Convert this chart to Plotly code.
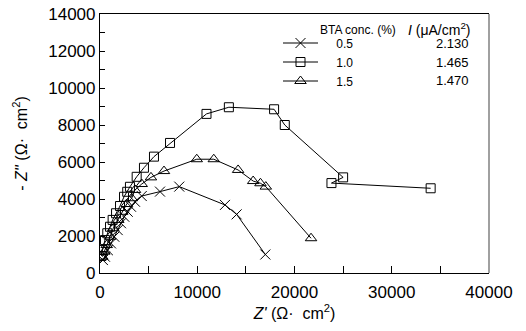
import plotly.graph_objects as go

# BTA 0.5 %
x05 = [17000, 14050, 12850, 8150, 6170, 4290, 3600, 3190, 2850, 2500, 2160, 1820, 1470, 1130, 790, 510, 300]
y05 = [1000, 3170, 3680, 4670, 4400, 4160, 3850, 3580, 3310, 3040, 2690, 2320, 1960, 1600, 1240, 880, 700]
# BTA 1.0 %
x10 = [34000, 23800, 25000, 19000, 17900, 13250, 10950, 7200, 5550, 4520, 3770, 3080, 2800, 2470, 2060, 1650, 1300, 1030, 750, 510, 260, 150]
y10 = [4580, 4860, 5170, 8000, 8850, 8960, 8600, 7030, 6290, 5690, 5200, 4660, 4390, 4120, 3620, 3230, 2870, 2500, 2150, 1780, 1240, 920]
# BTA 1.5 %
x15 = [21700, 17050, 16500, 15750, 14200, 11700, 9950, 6580, 5240, 4290, 3600, 3260, 2750, 2290, 1880, 1370, 1030, 690, 440, 240]
y15 = [1880, 4670, 4850, 4970, 5570, 6150, 6150, 5510, 5170, 4810, 4490, 4040, 3730, 3310, 2870, 2420, 1960, 1510, 1150, 880]

conc_labels = ["0.5", "1.0", "1.5"]
current_labels = ["2.130", "1.465", "1.470"]
x_ticks = [0, 10000, 20000, 30000, 40000]
y_ticks = [0, 2000, 4000, 6000, 8000, 10000, 12000, 14000]

FONT = "Liberation Sans, Arial, sans-serif"

fig = go.Figure()
series = [
    (x05, y05, "x-thin", 10),
    (x10, y10, "square-open", 9),
    (x15, y15, "triangle-up-open", 10),
]
for (xs, ys, sym, sz), name in zip(series, conc_labels):
    fig.add_trace(go.Scatter(
        x=xs, y=ys, mode="lines+markers", name="    " + name,
        line=dict(color="black", width=1),
        marker=dict(symbol=sym, size=sz, color="black",
                    line=dict(color="black", width=1)),
    ))

L, R, T, B = 100, 489, 14, 273
W, H = 526, 331

def px(xp):
    return (xp - L) / (R - L)

def py(yp):
    return (B - yp) / (B - T)

annotations = [
    dict(text="BTA conc. (%)", x=px(358), y=py(30), xanchor="center", yanchor="middle",
         font=dict(size=12)),
    dict(text="<i>I</i> (μA/cm<sup>2</sup>)", x=px(406), y=py(29), xanchor="left", yanchor="middle",
         font=dict(size=14)),
]
for i, val in enumerate(current_labels):
    annotations.append(dict(text=val, x=px(452), y=py(43.3 + 18.8 * i),
                            xanchor="center", yanchor="middle", font=dict(size=13)))
for a in annotations:
    a.update(xref="paper", yref="paper", showarrow=False)
    a["font"].update(family=FONT, color="black")

fig.update_layout(
    template="none",
    width=W, height=H,
    margin=dict(l=L, r=W - R, t=T, b=H - B, pad=0),
    paper_bgcolor="white", plot_bgcolor="white",
    font=dict(family=FONT, color="black", size=16),
    showlegend=True,
    legend=dict(x=px(278), y=py(28.5), xanchor="left", yanchor="top",
                bgcolor="rgba(0,0,0,0)", borderwidth=0,
                font=dict(size=12, family=FONT, color="black"),
                itemwidth=35, tracegroupgap=0),
    annotations=annotations,
    shapes=[dict(type="line", xref="paper", yref="paper", x0=1, x1=1, y0=0, y1=1,
                 line=dict(color="#808080", width=1.5))],
)
fig.update_xaxes(
    automargin=False,
    range=[0, 40000], tickvals=x_ticks, ticktext=[str(v) for v in x_ticks],
    showgrid=False, zeroline=False, showline=True, linecolor="black", linewidth=1.2,
    mirror=True, ticks="inside", ticklen=7, tickcolor="black", tickwidth=1,
    minor=dict(dtick=5000, ticks="inside", ticklen=7, tickcolor="black", tickwidth=1),
    tickfont=dict(size=17, family=FONT, color="black"), ticklabelstandoff=3,
    title=dict(text="<i>Z'</i> (Ω·  cm<sup>2</sup>)", font=dict(size=16, family=FONT, color="black"), standoff=7),
)
fig.update_yaxes(
    automargin=False,
    range=[0, 14000], tickvals=y_ticks, ticktext=[str(v) for v in y_ticks],
    showgrid=False, zeroline=False, showline=True, linecolor="black", linewidth=1.2,
    ticks="inside", ticklen=5, tickcolor="black", tickwidth=1,
    minor=dict(dtick=1000, ticks="inside", ticklen=5, tickcolor="black", tickwidth=1),
    tickfont=dict(size=17, family=FONT, color="black"),
    title=dict(text="- <i>Z''</i> (Ω·  cm<sup>2</sup>)", font=dict(size=16, family=FONT, color="black"), standoff=16),
)

fig.write_html("out.html")
